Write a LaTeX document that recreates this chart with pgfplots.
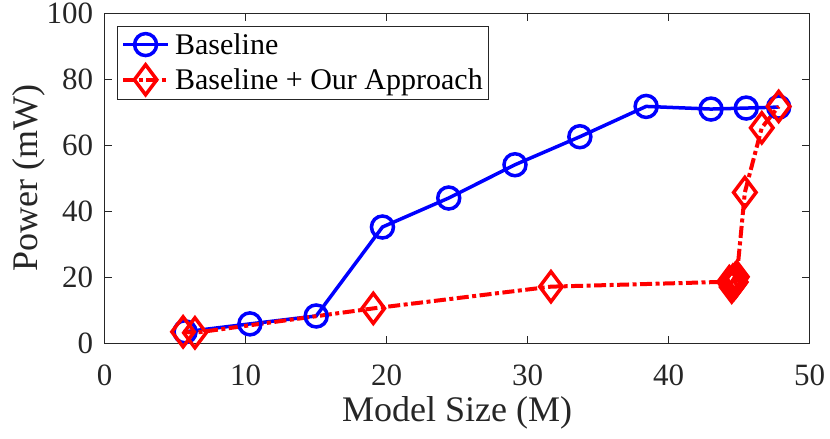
\documentclass[border=0pt]{standalone}
\usepackage{fontspec}
\setmainfont{Liberation Serif}
\usepackage{pgfplots}
\pgfplotsset{compat=1.18}
\definecolor{axgray}{gray}{0.15}
\begin{document}
\begin{tikzpicture}
\begin{axis}[
  scale only axis, width=705pt, height=329.5pt,
  xmin=0, xmax=50, ymin=0, ymax=100,
  xtick={0,10,...,50}, ytick={0,20,...,100},
  tick align=inside, major tick length=7.5pt,
  axis line style={axgray, line width=0.8pt},
  every tick/.style={axgray, line width=0.8pt},
  /pgf/number format/assume math mode=true,
  tick label style={font=\fontsize{31}{36}\selectfont, text=axgray},
  xticklabel style={anchor=base, inner sep=0pt, yshift=-42pt},
  yticklabel style={anchor=east, inner sep=0pt, xshift=-11.4pt},
  xlabel={Model Size (M)},
  xlabel style={font=\fontsize{36}{40}\selectfont, text=axgray, at={(axis description cs:0.5,-0.2388)}, anchor=base},
  ylabel={Power (mW)},
  ylabel style={font=\fontsize{36}{40}\selectfont, text=axgray, at={(axis description cs:-0.096,0.5)}, anchor=base},
  clip=false,
  legend style={at={(axis description cs:0.017,0.962)}, anchor=north west, draw=axgray, line width=0.8pt,
    font=\fontsize{30}{34}\selectfont, inner xsep=4pt, inner ysep=5pt, row sep=7pt, column sep=3pt,
    nodes={inner sep=2pt}},
  legend cell align=left,
  legend image code/.code={\draw[mark repeat=2, mark phase=2, #1] plot coordinates {(0pt,0pt) (22.5pt,0pt) (45pt,0pt)};},
]
\addplot[blue, line width=3.5pt, mark=o, mark size=11pt, mark options={solid, line width=3.5pt}]
coordinates {(5.7,3.4) (10.3,5.8) (15.0,8.2) (19.7,35.2) (24.4,44.0) (29.1,54.1) (33.7,62.6) (38.4,71.8) (43.0,71.0) (45.5,71.3) (47.8,71.6)};
\addlegendentry{Baseline}
\addplot[red, line width=4pt, dash pattern=on 12pt off 3.5pt on 4pt off 3.5pt, mark=diamond, mark size=15pt, mark options={solid, line width=3.5pt}]
coordinates {(5.56,3.4) (6.4,3.1) (19.05,10.5) (31.65,17.1) (44.30,18.6) (44.47,17.0) (44.40,18.0) (44.55,19.0) (44.62,17.8) (44.50,18.4) (44.70,19.4) (44.75,18.5) (44.83,20.1) (45.4,45.7) (46.6,65.3) (47.8,71.8)};
\addlegendentry{Baseline + Our Approach}
\end{axis}
\pgfresetboundingbox
\path[use as bounding box] (-104.7pt,-96pt) rectangle (725.3pt,343pt);
\end{tikzpicture}
\end{document}
